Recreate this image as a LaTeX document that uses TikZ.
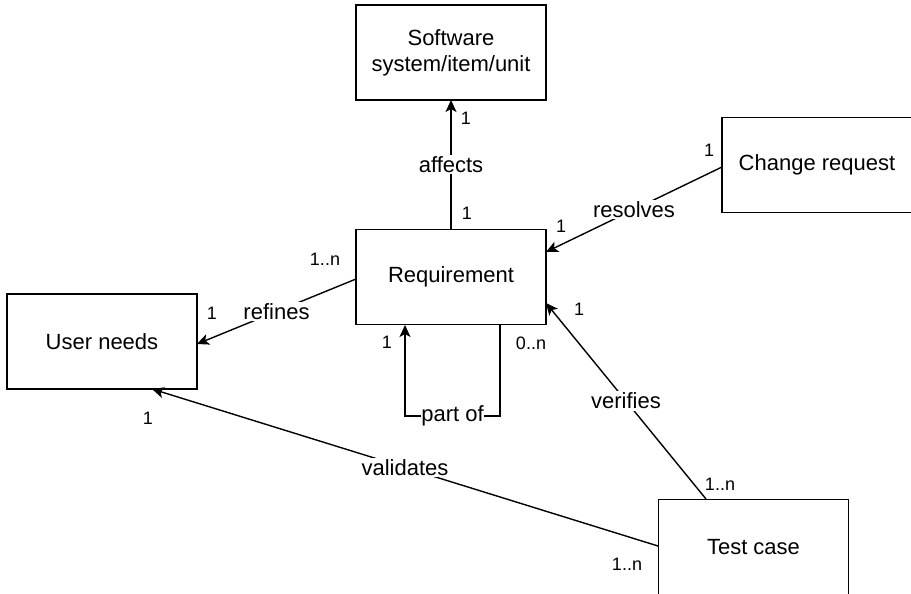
\documentclass[tikz,border=0pt]{standalone}
\usepackage{fontspec}
\setmainfont{Liberation Sans}
\usetikzlibrary{arrows.meta}
\tikzset{
  entity/.style={draw, line width=1.4pt, minimum width=190pt, minimum height=95pt,
    inner sep=0pt, align=center, font=\fontsize{22}{26}\selectfont},
  link/.style={line width=1.4pt},
  arr/.style={link, -{Stealth[length=12pt, width=11pt, inset=3pt]}},
  verb/.style={fill=white, inner sep=1.5pt, font=\fontsize{22}{26}\selectfont},
  mult/.style={inner sep=0pt, font=\fontsize{18}{21}\selectfont}
}
\begin{document}
\begin{tikzpicture}[x=1pt,y=-1pt]
\useasboundingbox (0,0) rectangle (911,594);

% entities
\node[entity] (sw)  at (451,52.5)  {Software\\system/item/unit};
\node[entity] (req) at (451,277)   {Requirement};
\node[entity] (cr)  at (817,165)   {Change request};
\node[entity] (un)  at (102,341.5) {User needs};
\node[entity] (tc)  at (753.5,547) {Test case};

% anchor points on the box borders
\coordinate (reqT)  at (451,229);
\coordinate (swB)   at (451,100);
\coordinate (crW)   at (722,167);
\coordinate (reqE1) at (546,252);
\coordinate (reqW)  at (356,279);
\coordinate (unE)   at (197,344);
\coordinate (reqB1) at (500,325);
\coordinate (reqB2) at (405,325);
\coordinate (tcW)   at (658,546);
\coordinate (unB)   at (152,389);
\coordinate (tcN)   at (706,499);
\coordinate (reqE2) at (546,303);

% affects
\draw[arr] (reqT) -- node[verb, pos=0.5] {affects} (swB);
\node[mult] at (466,118) {1};
\node[mult] at (467,213) {1};

% resolves
\draw[arr] (crW) -- node[verb, pos=0.5] {resolves} (reqE1);
\node[mult] at (709,150) {1};
\node[mult] at (561,226) {1};

% refines
\draw[arr] (reqW) -- node[verb, pos=0.5] {refines} (unE);
\node[mult] at (325,259) {1..n};
\node[mult] at (212,313) {1};

% part of (self relation)
\draw[arr] (reqB1) |- node[verb, pos=0.75, inner sep=0.5pt] {part of} (405,416) -- (reqB2);
\node[mult] at (531,343) {0..n};
\node[mult] at (387,342) {1};

% validates
\draw[arr] (tcW) -- node[verb, pos=0.5] {validates} (unB);
\node[mult] at (148,418) {1};
\node[mult] at (627,564) {1..n};

% verifies
\draw[arr] (tcN) -- node[verb, pos=0.5] {verifies} (reqE2);
\node[mult] at (579,309) {1};
\node[mult] at (720,484) {1..n};
\end{tikzpicture}
\end{document}
